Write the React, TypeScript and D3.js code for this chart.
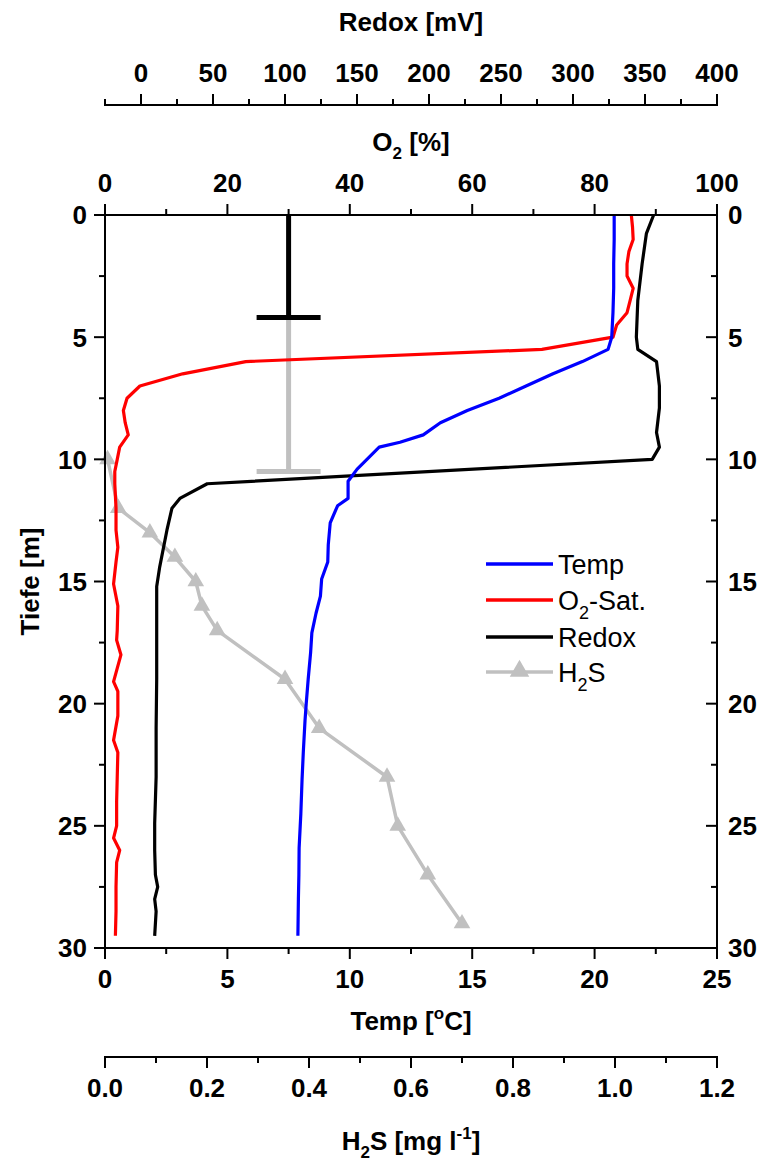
import React from "react";
import * as d3 from "d3";

// depth profiles (Tiefe in m)
const tempDepth = [0, 1, 2, 3, 4, 5, 5.5, 6, 6.5, 7, 7.5, 8, 8.5, 9, 9.3, 9.5, 10, 10.4, 10.9, 11.6, 11.9, 12.6, 13.5, 14.2, 14.9, 15.6, 16.3, 17.1, 17.9, 19, 20, 20.7, 22, 23.1, 24.5, 25.9, 27, 28, 29.5];
const tempValues = [20.8, 20.8, 20.78, 20.78, 20.75, 20.7, 20.55, 19.5, 18.3, 17.2, 16.1, 14.8, 13.7, 13.0, 12.05, 11.2, 10.7, 10.3, 9.93, 9.93, 9.5, 9.2, 9.12, 9.1, 8.85, 8.8, 8.62, 8.45, 8.4, 8.3, 8.22, 8.17, 8.1, 8.05, 8.0, 7.93, 7.92, 7.9, 7.88];

const o2Depth = [0, 0.5, 1, 1.5, 2, 2.5, 3, 3.5, 4, 4.5, 5, 5.5, 6, 6.5, 7, 7.5, 8, 8.5, 9, 9.5, 10, 10.5, 11, 12, 12.9, 13.6, 14.2, 15.1, 16, 17, 17.4, 18, 19.1, 19.5, 20.5, 21.5, 22, 23, 24, 25, 25.5, 26, 26.5, 27.5, 28.5, 29.5];
const o2Values = [86.0, 86.2, 86.3, 85.6, 85.3, 85.3, 86.3, 85.8, 85.3, 83.6, 83.0, 71.4, 23.0, 12.7, 5.7, 3.6, 3.0, 3.3, 3.8, 2.4, 2.0, 1.6, 1.6, 1.8, 1.8, 2.1, 1.8, 1.4, 2.1, 2.0, 1.9, 2.6, 1.4, 2.1, 2.1, 1.4, 2.1, 2.0, 1.9, 1.9, 1.4, 2.4, 1.9, 1.8, 1.8, 1.7];

const redoxDepth = [0, 0.75, 2, 3.5, 5, 5.5, 6, 7, 7.9, 8.9, 9.5, 10, 11, 11.6, 12, 12.9, 14.4, 15.2, 17, 19, 21, 23, 24.9, 26, 27, 27.5, 28, 28.5, 29.5];
const redoxValues = [356, 351, 348, 345, 344, 345, 358, 360, 360, 358, 360, 355, 46, 27, 21.5, 18, 13, 10.9, 10.9, 10.9, 10.5, 10.5, 9.5, 9.5, 10, 11.6, 9.5, 10.5, 9.5];

const h2sDepth = [10, 12, 13, 14, 15, 16, 17, 19, 21, 23, 25, 27, 29];
const h2sValues = [0.005, 0.026, 0.088, 0.137, 0.178, 0.19, 0.22, 0.353, 0.42, 0.553, 0.574, 0.633, 0.7];

// the two vertical bars (on the temperature scale)
const barTemp = 7.5;
const blackBarDepth = [0, 4.2];
const grayBarDepth = [4.2, 10.5];

// ticks
const depthTicks = [0, 5, 10, 15, 20, 25, 30];
const depthMinor = [2.5, 7.5, 12.5, 17.5, 22.5, 27.5];
const tempTicks = [0, 5, 10, 15, 20, 25];
const tempMinor = [2.5, 7.5, 12.5, 17.5, 22.5];
const o2Ticks = [0, 20, 40, 60, 80, 100];
const o2Minor = [10, 30, 50, 70, 90];
const redoxTicks = [0, 50, 100, 150, 200, 250, 300, 350, 400];
const redoxMinor = [-25, 25, 75, 125, 175, 225, 275, 325, 375];
const h2sTicks = [0, 0.2, 0.4, 0.6, 0.8, 1.0, 1.2];
const h2sMinor = [0.1, 0.3, 0.5, 0.7, 0.9, 1.1];

const font = "'Liberation Sans', Arial, sans-serif";

export default function App() {
  const width = 768;
  const height = 1166;
  const left = 105, right = 717, top = 215, bottom = 948;

  const y = d3.scaleLinear().domain([0, 30]).range([top, bottom]);
  const tempX = d3.scaleLinear().domain([0, 25]).range([left, right]);
  const o2X = d3.scaleLinear().domain([0, 100]).range([left, right]);
  const redoxX = d3.scaleLinear().domain([-25, 400]).range([left, right]);
  const h2sX = d3.scaleLinear().domain([0, 1.2]).range([left, right]);

  const mkLine = (sx: d3.ScaleLinear<number, number>) =>
    d3.line<[number, number]>()
      .x((d) => sx(d[1]))
      .y((d) => y(d[0]));

  const tempPath = mkLine(tempX)(d3.zip(tempDepth, tempValues) as [number, number][]);
  const o2Path = mkLine(o2X)(d3.zip(o2Depth, o2Values) as [number, number][]);
  const redoxPath = mkLine(redoxX)(d3.zip(redoxDepth, redoxValues) as [number, number][]);
  const h2sPts = d3.zip(h2sDepth, h2sValues) as [number, number][];
  const h2sPath = mkLine(h2sX)(h2sPts);
  const tri = d3.symbol(d3.symbolTriangle, 120)() as string;
  const triLegend = d3.symbol(d3.symbolTriangle, 165)() as string;

  const tickStyle = { stroke: "#000", strokeWidth: 2 };
  const labelStyle: React.CSSProperties = { fontFamily: font, fontWeight: 700, fontSize: 26 };

  // horizontal axis: ticks at x positions, going dir (+1 down, -1 up)
  const hAxis = (sx: d3.ScaleLinear<number, number>, major: number[], minor: number[], yLine: number, dir: number, labelY: number | null, fmt: (v: number) => string) => (
    <g>
      <line x1={left} x2={right} y1={yLine} y2={yLine} {...tickStyle} strokeLinecap="square" />
      {major.map((v) => (
        <line key={"M" + v} x1={sx(v)} x2={sx(v)} y1={yLine} y2={yLine + dir * 11} {...tickStyle} />
      ))}
      {minor.map((v) => (
        <line key={"m" + v} x1={sx(v)} x2={sx(v)} y1={yLine} y2={yLine + dir * 6} {...tickStyle} />
      ))}
      {labelY !== null &&
        major.map((v) => (
          <text key={"t" + v} x={sx(v)} y={labelY} textAnchor="middle" style={labelStyle}>
            {fmt(v)}
          </text>
        ))}
    </g>
  );

  const vAxis = (xLine: number, dir: number, anchor: "start" | "end", labelX: number) => (
    <g>
      <line x1={xLine} x2={xLine} y1={top} y2={bottom} {...tickStyle} strokeLinecap="square" />
      {depthTicks.map((v) => (
        <line key={"M" + v} x1={xLine} x2={xLine + dir * 11} y1={y(v)} y2={y(v)} {...tickStyle} />
      ))}
      {depthMinor.map((v) => (
        <line key={"m" + v} x1={xLine} x2={xLine + dir * 6} y1={y(v)} y2={y(v)} {...tickStyle} />
      ))}
      {depthTicks.map((v) => (
        <text key={"t" + v} x={labelX} y={y(v)} dy="0.36em" textAnchor={anchor} style={labelStyle}>
          {v}
        </text>
      ))}
    </g>
  );

  const capHalf = 32;
  const legendRows = [564, 600, 637, 672];

  return (
    <svg width={width} height={height} style={{ position: "absolute", left: 0, top: 0, display: "block", background: "#fff" }}>
      {/* bar markers */}
      <line x1={tempX(barTemp)} x2={tempX(barTemp)} y1={y(grayBarDepth[0])} y2={y(grayBarDepth[1])} stroke="#c0c0c0" strokeWidth={5} />
      <line x1={tempX(barTemp) - capHalf} x2={tempX(barTemp) + capHalf} y1={y(grayBarDepth[1])} y2={y(grayBarDepth[1])} stroke="#c0c0c0" strokeWidth={5} />
      <line x1={tempX(barTemp)} x2={tempX(barTemp)} y1={y(blackBarDepth[0])} y2={y(blackBarDepth[1])} stroke="#000" strokeWidth={5} />
      <line x1={tempX(barTemp) - capHalf} x2={tempX(barTemp) + capHalf} y1={y(blackBarDepth[1])} y2={y(blackBarDepth[1])} stroke="#000" strokeWidth={5} />

      {/* profiles */}
      <path d={h2sPath ?? ""} fill="none" stroke="#c0c0c0" strokeWidth={3.5} strokeLinejoin="round" />
      {h2sPts.map((d, i) => (
        <path key={i} d={tri} transform={`translate(${h2sX(d[1])},${y(d[0])})`} fill="#c0c0c0" />
      ))}
      <path d={o2Path ?? ""} fill="none" stroke="#ff0000" strokeWidth={3.2} strokeLinejoin="round" />
      <path d={redoxPath ?? ""} fill="none" stroke="#000" strokeWidth={3.2} strokeLinejoin="round" />
      <path d={tempPath ?? ""} fill="none" stroke="#0000ff" strokeWidth={3.2} strokeLinejoin="round" />

      {/* axes */}
      {hAxis(o2X, o2Ticks, o2Minor, top, -1, 192, (v) => String(v))}
      {hAxis(tempX, tempTicks, tempMinor, bottom, 1, 988, (v) => String(v))}
      {hAxis(redoxX, redoxTicks, redoxMinor, 105, -1, 82, (v) => String(v))}
      {hAxis(h2sX, h2sTicks, h2sMinor, 1057, 1, 1097, (v) => v.toFixed(1))}
      {vAxis(left, -1, "end", 87)}
      {vAxis(right, -1, "start", 728)}

      {/* titles */}
      <g style={labelStyle} textAnchor="middle">
        <text x={411} y={31}>Redox [mV]</text>
        <text x={411} y={151}>
          O<tspan fontSize={17} dy={8}>2</tspan>
          <tspan dy={-8}> [%]</tspan>
        </text>
        <text x={411} y={1030}>
          Temp [<tspan fontSize={17} dy={-11}>o</tspan>
          <tspan dy={11}>C]</tspan>
        </text>
        <text x={411} y={1150}>
          H<tspan fontSize={17} dy={8}>2</tspan>
          <tspan dy={-8}>S [mg l</tspan>
          <tspan fontSize={17} dy={-11}>-1</tspan>
          <tspan dy={11}>]</tspan>
        </text>
        <text transform={`translate(39,${(top + bottom) / 2}) rotate(-90)`}>Tiefe [m]</text>
      </g>

      {/* legend */}
      <g style={{ fontFamily: font, fontSize: 27 }}>
        <line x1={486} x2={553} y1={legendRows[0]} y2={legendRows[0]} stroke="#0000ff" strokeWidth={3.5} />
        <text x={558} y={legendRows[0]} dy="0.36em">Temp</text>
        <line x1={486} x2={553} y1={legendRows[1]} y2={legendRows[1]} stroke="#ff0000" strokeWidth={3.5} />
        <text x={558} y={legendRows[1]} dy="0.36em">
          O<tspan fontSize={18} dy={9}>2</tspan>
          <tspan dy={-9}>-Sat.</tspan>
        </text>
        <line x1={486} x2={553} y1={legendRows[2]} y2={legendRows[2]} stroke="#000" strokeWidth={3.5} />
        <text x={558} y={legendRows[2]} dy="0.36em">Redox</text>
        <line x1={486} x2={553} y1={legendRows[3]} y2={legendRows[3]} stroke="#c0c0c0" strokeWidth={3.5} />
        <path d={triLegend} transform={`translate(519.5,${legendRows[3] - 1})`} fill="#c0c0c0" />
        <text x={558} y={legendRows[3]} dy="0.36em">
          H<tspan fontSize={18} dy={9}>2</tspan>
          <tspan dy={-9}>S</tspan>
        </text>
      </g>
    </svg>
  );
}
